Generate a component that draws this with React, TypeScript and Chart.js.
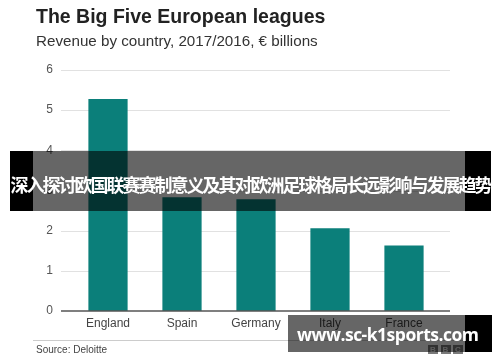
import React, { useEffect, useRef } from "react";
import { Chart, registerables } from "chart.js";

Chart.register(...registerables);

const categories = ["England", "Spain", "Germany", "Italy", "France"];
const revenue = [5.28, 2.83, 2.78, 2.06, 1.63];
const yTicks = [0, 1, 2, 3, 4, 5, 6];

const titleText = "The Big Five European leagues";
const subtitleText = "Revenue by country, 2017/2016, € billions";
const sourceText = "Source: Deloitte";
const bannerText = "深入探讨欧国联赛赛制意义及其对欧洲足球格局长远影响与发展趋势";
const watermarkText = "www.sc-k1sports.com";
const logoLetters = ["B", "B", "C"];

const SANS = "'Liberation Sans', Arial, Helvetica, sans-serif";

const gridPlugin = {
  id: "extendedGrid",
  beforeDatasetsDraw(chart: any) {
    const { ctx, chartArea, scales } = chart;
    const y = scales.y;
    ctx.save();
    ctx.strokeStyle = "#e1e1e1";
    ctx.lineWidth = 1;
    for (const v of yTicks) {
      if (v === 0) continue;
      const py = Math.round(y.getPixelForValue(v)) + 0.5;
      ctx.beginPath();
      ctx.moveTo(chartArea.left - 10, py);
      ctx.lineTo(chartArea.right + 9, py);
      ctx.stroke();
    }
    ctx.restore();
  },
  afterDatasetsDraw(chart: any) {
    const { ctx, chartArea, scales } = chart;
    const py = scales.y.getPixelForValue(0);
    ctx.save();
    ctx.strokeStyle = "#555555";
    ctx.lineWidth = 1.5;
    ctx.beginPath();
    ctx.moveTo(chartArea.left - 10, py);
    ctx.lineTo(chartArea.right + 9, py);
    ctx.stroke();
    ctx.restore();
  },
};

export default function App() {
  const canvasRef = useRef<HTMLCanvasElement | null>(null);

  useEffect(() => {
    if (!canvasRef.current) return;
    const chart = new Chart(canvasRef.current, {
      type: "bar",
      data: {
        labels: categories,
        datasets: [
          {
            label: "Revenue",
            data: revenue,
            backgroundColor: "#0b7f7a",
            borderWidth: 0,
            categoryPercentage: 1,
            barPercentage: 0.53,
          },
        ],
      },
      options: {
        animation: false,
        responsive: false,
        devicePixelRatio: 1,
        layout: { padding: { left: 0, top: 70, right: 59, bottom: 31 } },
        plugins: {
          legend: { display: false },
          title: { display: false },
          tooltip: { enabled: false },
        },
        scales: {
          x: {
            grid: { display: false, drawTicks: false },
            border: { display: false },
            ticks: {
              padding: 5,
              color: "#444444",
              font: { family: SANS, size: 12 },
            },
            afterFit: (scale: any) => {
              scale.height = 20;
            },
          },
          y: {
            min: 0,
            max: 6,
            grid: { display: false, drawTicks: false },
            border: { display: false },
            ticks: {
              stepSize: 1,
              padding: 18,
              color: "#555555",
              font: { family: SANS, size: 12 },
            },
            afterFit: (scale: any) => {
              scale.width = 71;
            },
          },
        },
      },
      plugins: [gridPlugin],
    });
    return () => chart.destroy();
  }, []);

  const abs = (s: React.CSSProperties): React.CSSProperties => ({
    position: "absolute",
    margin: 0,
    padding: 0,
    whiteSpace: "nowrap",
    ...s,
  });

  return (
    <div
      style={{
        position: "absolute",
        left: 0,
        top: 0,
        width: 500,
        height: 362,
        background: "#ffffff",
        overflow: "hidden",
      }}
    >
      <canvas
        ref={canvasRef}
        width={500}
        height={362}
        style={{ position: "absolute", left: 0, top: 0, width: 500, height: 362 }}
      />
      <div
        style={abs({
          left: 36,
          top: 6.5,
          fontFamily: SANS,
          fontWeight: 700,
          fontSize: 19.5,
          lineHeight: "19.5px",
          color: "#222222",
        })}
      >
        {titleText}
      </div>
      <div
        style={abs({
          left: 36,
          top: 32.6,
          fontFamily: SANS,
          fontSize: 15.2,
          lineHeight: "15.2px",
          color: "#333333",
        })}
      >
        {subtitleText}
      </div>
      <div style={abs({ left: 33, top: 340, width: 430, height: 1, background: "#cccccc" })} />
      <div
        style={abs({
          left: 36,
          top: 344.5,
          fontFamily: SANS,
          fontSize: 10,
          lineHeight: "10px",
          color: "#444444",
        })}
      >
        {sourceText}
      </div>
      {logoLetters.map((l, i) => (
        <div
          key={i}
          style={abs({
            left: 428 + i * 12.5,
            top: 345,
            width: 10,
            height: 9,
            background: "#7a7a7a",
            color: "#e6e6e6",
            fontFamily: SANS,
            fontWeight: 700,
            fontSize: 8,
            lineHeight: "9px",
            textAlign: "center",
          })}
        >
          {l}
        </div>
      ))}

      {/* Banner overlay */}
      <div style={abs({ left: 10, top: 151, width: 23, height: 60, background: "#000000" })} />
      <div style={abs({ left: 33, top: 151, width: 432, height: 60, background: "rgba(0,0,0,0.6)" })} />
      <div style={abs({ left: 465, top: 151, width: 26, height: 60, background: "#000000" })} />
      <div
        style={abs({
          left: 10,
          top: 154,
          width: 481,
          height: 60,
          lineHeight: "60px",
          textAlign: "center",
          color: "#ffffff",
          fontFamily: "'Noto Sans CJK SC', sans-serif",
          fontWeight: 700,
          fontSize: 18,
          letterSpacing: -2,
        })}
      >
        {bannerText}
      </div>

      {/* Watermark overlay */}
      <div style={abs({ left: 288, top: 315, width: 177, height: 37, background: "rgba(0,0,0,0.6)" })} />
      <div style={abs({ left: 465, top: 315, width: 27, height: 37, background: "#000000" })} />
      <div
        style={abs({
          left: 297,
          top: 326,
          fontFamily: "'Open Sans', 'Noto Sans', sans-serif",
          fontWeight: 700,
          fontSize: 17.5,
          lineHeight: "17.5px",
          letterSpacing: -0.5,
          color: "#ffffff",
        })}
      >
        {watermarkText}
      </div>
    </div>
  );
}
